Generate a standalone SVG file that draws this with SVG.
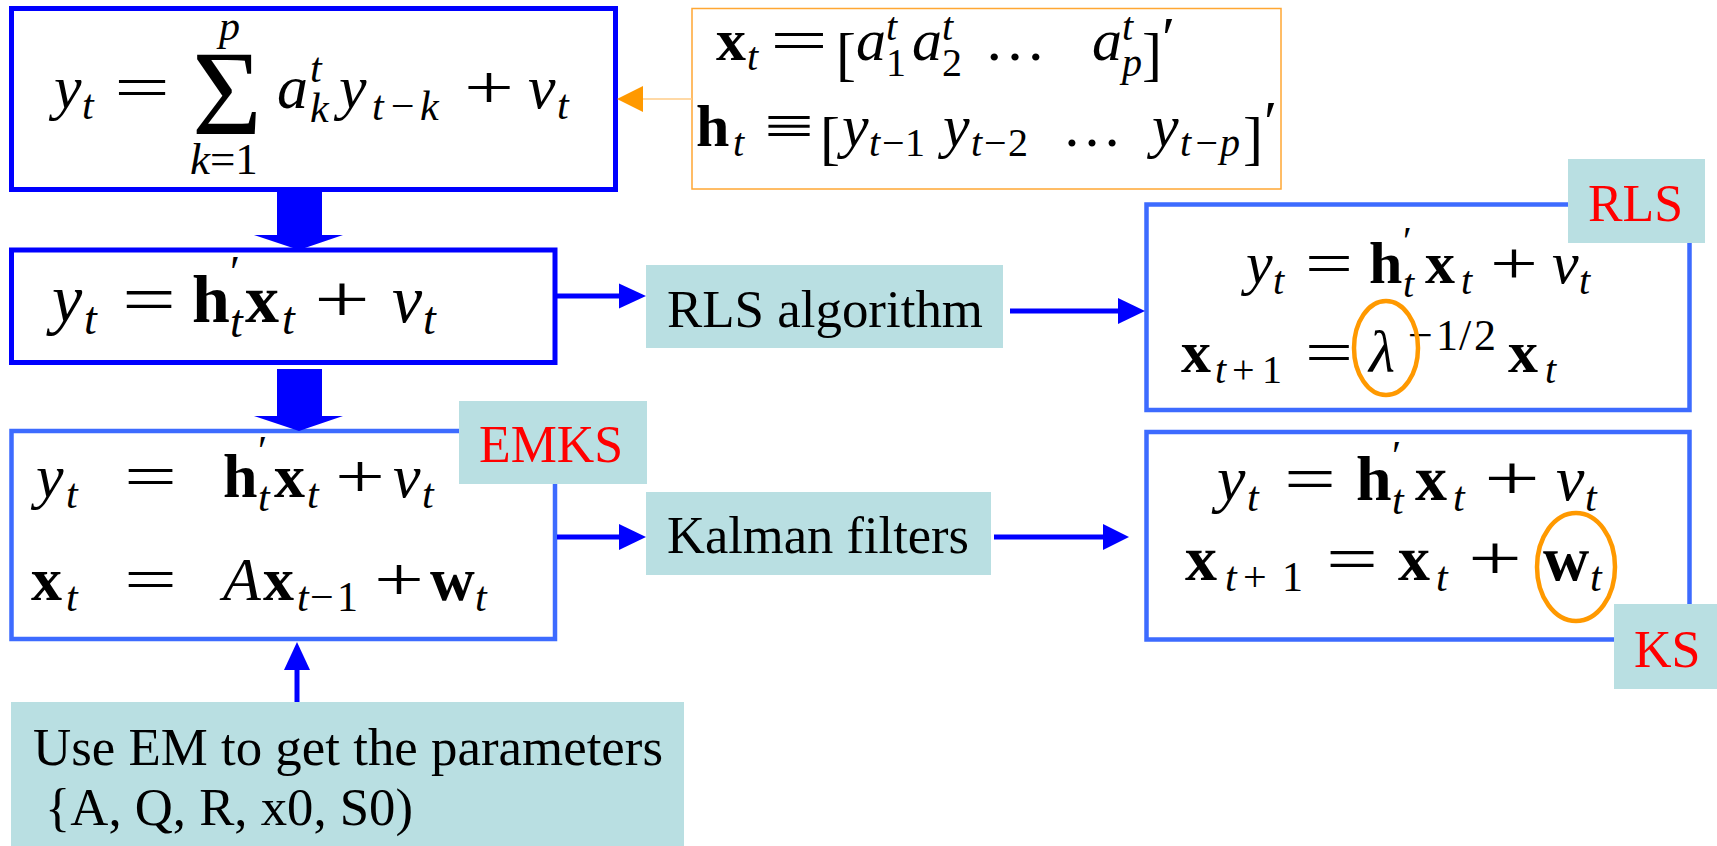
<svg xmlns="http://www.w3.org/2000/svg" width="1717" height="846" viewBox="0 0 1717 846">
<style>
  .frame1 { fill:#ffffff; stroke:#0000ff; stroke-width:5; }
  .frame2 { fill:#ffffff; stroke:#3d6bff; stroke-width:4.5; }
  .frameO { fill:#ffffff; stroke:#ffa733; stroke-width:1.5; }
  .tag { fill:#b9dfe2; }
  .lbl { font-family:"Liberation Serif","Times New Roman",serif; font-size:52px; fill:#000000; }
  .red { fill:#ff0000; }
  .m { font-family:"Liberation Serif","Times New Roman",serif; fill:#000000; }
  .i { font-style:italic; }
  .b { font-weight:bold; }
  .wire { stroke:#0000ff; stroke-width:5; fill:none; }
  .head { fill:#0000ff; }
  .block { fill:#0000ff; }
  .ring { fill:none; stroke:#ff9900; stroke-width:4.5; }
</style>

<!-- AR model: y_t = sum a_k^t y_{t-k} + v_t -->
<g id="ar-model">
  <rect class="frame1" x="11.5" y="8.5" width="604" height="181"/>
  <text class="m" font-size="62"><tspan class="i" x="54" y="108">y</tspan><tspan class="i" font-size="42" x="82" y="119">t</tspan><tspan x="114" y="108" textLength="56" lengthAdjust="spacingAndGlyphs">=</tspan><tspan font-size="120" x="192" y="134">Σ</tspan><tspan class="i" font-size="42" x="219" y="40">p</tspan><tspan class="i" font-size="45" x="190" y="174">k</tspan><tspan font-size="45">=1</tspan><tspan class="i" x="277" y="108">a</tspan><tspan class="i" font-size="42" x="310" y="82">t</tspan><tspan class="i" font-size="42" x="310" y="122">k</tspan><tspan class="i" x="339" y="108">y</tspan><tspan class="i" font-size="42" x="372 388 420" y="120">t−k</tspan><tspan x="464" y="108" textLength="50" lengthAdjust="spacingAndGlyphs">+</tspan><tspan class="i" x="528" y="108">v</tspan><tspan class="i" font-size="42" x="557" y="119">t</tspan></text>
</g>

<!-- state and regressor vectors -->
<g id="definitions">
  <rect class="frameO" x="692" y="8.5" width="589" height="180.5"/>
  <text class="m" font-size="60"><tspan class="b" x="716" y="60">x</tspan><tspan class="i" font-size="40" x="747" y="70">t</tspan><tspan x="770" y="60" textLength="58" lengthAdjust="spacingAndGlyphs">=</tspan><tspan x="836" y="74">[</tspan><tspan class="i" x="856" y="60">a</tspan><tspan class="i" font-size="40" x="886" y="40">t</tspan><tspan font-size="40" x="886" y="76">1</tspan><tspan class="i" x="912" y="60">a</tspan><tspan class="i" font-size="40" x="942" y="40">t</tspan><tspan font-size="40" x="942" y="76">2</tspan><tspan x="984" y="60" textLength="62" lengthAdjust="spacingAndGlyphs">…</tspan><tspan class="i" x="1092" y="60">a</tspan><tspan class="i" font-size="40" x="1122" y="40">t</tspan><tspan class="i" font-size="40" x="1122" y="76">p</tspan><tspan x="1142" y="74">]</tspan><tspan x="1162" y="58">′</tspan></text>
  <text class="m" font-size="60"><tspan class="b" x="696" y="146">h</tspan><tspan class="i" font-size="40" x="733" y="156">t</tspan><tspan x="764" y="146" textLength="50" lengthAdjust="spacingAndGlyphs">≡</tspan><tspan x="820" y="158">[</tspan><tspan class="i" x="842" y="146">y</tspan><tspan class="i" font-size="40" x="869" y="156">t</tspan><tspan font-size="40" x="882 905" y="156">−1</tspan><tspan class="i" x="943" y="146">y</tspan><tspan class="i" font-size="40" x="971" y="156">t</tspan><tspan font-size="40" x="984 1008" y="156">−2</tspan><tspan x="1062" y="146" textLength="60" lengthAdjust="spacingAndGlyphs">…</tspan><tspan class="i" x="1152" y="146">y</tspan><tspan class="i" font-size="40" x="1180 1193 1220" y="156">t−p</tspan><tspan x="1243" y="158">]</tspan><tspan x="1264" y="142">′</tspan></text>
</g>

<!-- regression form -->
<g id="regression">
  <rect class="frame1" x="11.5" y="250" width="543.5" height="112.5"/>
  <text class="m" font-size="68"><tspan class="i" x="52" y="322">y</tspan><tspan class="i" font-size="46" x="84" y="334">t</tspan><tspan x="122" y="322" textLength="54" lengthAdjust="spacingAndGlyphs">=</tspan><tspan class="b" x="192" y="322">h</tspan><tspan font-size="46" x="230" y="288">′</tspan><tspan class="i" font-size="46" x="230" y="337">t</tspan><tspan class="b" x="245" y="322">x</tspan><tspan class="i" font-size="46" x="282" y="334">t</tspan><tspan x="314" y="322" textLength="56" lengthAdjust="spacingAndGlyphs">+</tspan><tspan class="i" x="392" y="322">v</tspan><tspan class="i" font-size="46" x="423" y="334">t</tspan></text>
</g>

<!-- state-space model -->
<g id="emks">
  <rect class="frame2" x="11.5" y="431" width="543.5" height="208"/>
  <text class="m" font-size="62"><tspan class="i" x="36" y="497">y</tspan><tspan class="i" font-size="42" x="66" y="508">t</tspan><tspan x="124" y="497" textLength="53" lengthAdjust="spacingAndGlyphs">=</tspan><tspan class="b" x="223" y="497">h</tspan><tspan font-size="42" x="258" y="465">′</tspan><tspan class="i" font-size="42" x="258" y="511">t</tspan><tspan class="b" x="274" y="497">x</tspan><tspan class="i" font-size="42" x="307" y="508">t</tspan><tspan x="335" y="497" textLength="50" lengthAdjust="spacingAndGlyphs">+</tspan><tspan class="i" x="393" y="497">v</tspan><tspan class="i" font-size="42" x="422" y="508">t</tspan></text>
  <text class="m" font-size="62"><tspan class="b" x="31" y="600">x</tspan><tspan class="i" font-size="42" x="66" y="611">t</tspan><tspan x="124" y="600" textLength="53" lengthAdjust="spacingAndGlyphs">=</tspan><tspan class="i" x="223" y="600">A</tspan><tspan class="b" x="263" y="600">x</tspan><tspan class="i" font-size="42" x="297" y="611">t</tspan><tspan font-size="42" x="310 337" y="611">−1</tspan><tspan x="374" y="600" textLength="50" lengthAdjust="spacingAndGlyphs">+</tspan><tspan class="b" x="430" y="600">w</tspan><tspan class="i" font-size="42" x="475" y="611">t</tspan></text>
  <rect class="tag" x="459" y="401" width="188" height="83"/>
  <text class="lbl red" x="479" y="462" textLength="144" lengthAdjust="spacingAndGlyphs">EMKS</text>
</g>

<g id="rls-algorithm">
  <rect class="tag" x="646" y="265" width="357" height="83"/>
  <text class="lbl" x="667" y="327" textLength="316" lengthAdjust="spacingAndGlyphs">RLS algorithm</text>
</g>

<g id="kalman-filters">
  <rect class="tag" x="646" y="492" width="345" height="83"/>
  <text class="lbl" x="667" y="553" textLength="302" lengthAdjust="spacingAndGlyphs">Kalman filters</text>
</g>

<!-- RLS model -->
<g id="rls">
  <rect class="frame2" x="1146.5" y="204.5" width="543" height="205.5"/>
  <text class="m" font-size="60"><tspan class="i" x="1246" y="283">y</tspan><tspan class="i" font-size="40" x="1273" y="294">t</tspan><tspan x="1305" y="283" textLength="48" lengthAdjust="spacingAndGlyphs">=</tspan><tspan class="b" x="1369" y="283">h</tspan><tspan font-size="40" x="1403" y="254">′</tspan><tspan class="i" font-size="40" x="1403" y="297">t</tspan><tspan class="b" x="1425" y="283">x</tspan><tspan class="i" font-size="40" x="1461" y="294">t</tspan><tspan x="1490" y="283" textLength="48" lengthAdjust="spacingAndGlyphs">+</tspan><tspan class="i" x="1552" y="283">v</tspan><tspan class="i" font-size="40" x="1579" y="294">t</tspan></text>
  <text class="m" font-size="60"><tspan class="b" x="1181" y="372">x</tspan><tspan class="i" font-size="40" x="1215" y="383">t</tspan><tspan font-size="40" x="1232 1262" y="383">+1</tspan><tspan x="1305" y="372" textLength="48" lengthAdjust="spacingAndGlyphs">=</tspan><tspan class="i" x="1369" y="372">λ</tspan><tspan font-size="44" x="1408 1436 1459 1474" y="350">−1/2</tspan><tspan class="b" x="1508" y="372">x</tspan><tspan class="i" font-size="40" x="1545" y="383">t</tspan></text>
  <ellipse class="ring" cx="1386" cy="348" rx="32" ry="47"/>
  <rect class="tag" x="1568" y="159" width="137" height="84"/>
  <text class="lbl red" x="1588" y="221" textLength="95" lengthAdjust="spacingAndGlyphs">RLS</text>
</g>

<!-- random-walk state model -->
<g id="ks">
  <rect class="frame2" x="1146.5" y="432" width="543" height="207.5"/>
  <text class="m" font-size="64"><tspan class="i" x="1217" y="500">y</tspan><tspan class="i" font-size="42" x="1247" y="511">t</tspan><tspan x="1284" y="500" textLength="52" lengthAdjust="spacingAndGlyphs">=</tspan><tspan class="b" x="1356" y="500">h</tspan><tspan font-size="42" x="1392" y="470">′</tspan><tspan class="i" font-size="42" x="1392" y="514">t</tspan><tspan class="b" x="1415" y="500">x</tspan><tspan class="i" font-size="42" x="1453" y="511">t</tspan><tspan x="1484" y="500" textLength="56" lengthAdjust="spacingAndGlyphs">+</tspan><tspan class="i" x="1556" y="500">v</tspan><tspan class="i" font-size="42" x="1585" y="511">t</tspan></text>
  <text class="m" font-size="64"><tspan class="b" x="1185" y="580">x</tspan><tspan class="i" font-size="42" x="1225" y="591">t</tspan><tspan font-size="42" x="1243 1282" y="591">+1</tspan><tspan x="1326" y="580" textLength="52" lengthAdjust="spacingAndGlyphs">=</tspan><tspan class="b" x="1398" y="580">x</tspan><tspan class="i" font-size="42" x="1436" y="591">t</tspan><tspan x="1468" y="580" textLength="54" lengthAdjust="spacingAndGlyphs">+</tspan><tspan class="b" x="1543" y="580">w</tspan><tspan class="i" font-size="42" x="1590" y="591">t</tspan></text>
  <ellipse class="ring" cx="1576" cy="567" rx="39" ry="54"/>
  <rect class="tag" x="1614" y="604" width="103" height="85"/>
  <text class="lbl red" x="1634" y="667">KS</text>
</g>

<g id="em-parameters">
  <rect class="tag" x="11" y="702" width="673" height="144"/>
  <text class="lbl" x="33" y="765" textLength="630" lengthAdjust="spacingAndGlyphs">Use EM to get the parameters</text>
  <text class="lbl" x="45" y="825" textLength="368" lengthAdjust="spacingAndGlyphs">{A, Q, R, x0, S0)</text>
</g>

<!-- connectors -->
<g id="connectors">
  <polygon class="block" points="277,190 322,190 322,235 343,235 299,250 254,235 277,235"/>
  <polygon class="block" points="277,369 322,369 322,416 343,416 299,431 254,416 277,416"/>

  <line x1="692" y1="99" x2="640" y2="99" stroke="#ffcc88" stroke-width="1.5"/>
  <polygon fill="#ff9900" points="617,99 643,86 643,112"/>

  <line class="wire" x1="557" y1="296" x2="621" y2="296"/>
  <polygon class="head" points="646,296 619,283.5 619,308.5"/>

  <line class="wire" x1="1010" y1="311" x2="1120" y2="311"/>
  <polygon class="head" points="1145,311 1118,298 1118,324"/>

  <line class="wire" x1="557" y1="537" x2="621" y2="537"/>
  <polygon class="head" points="646,537 619,524 619,550"/>

  <line class="wire" x1="994" y1="537" x2="1105" y2="537"/>
  <polygon class="head" points="1129,537 1103,524 1103,550"/>

  <line class="wire" x1="297" y1="702" x2="297" y2="668"/>
  <polygon class="head" points="297,642 284,670 310,670"/>
</g>
</svg>
